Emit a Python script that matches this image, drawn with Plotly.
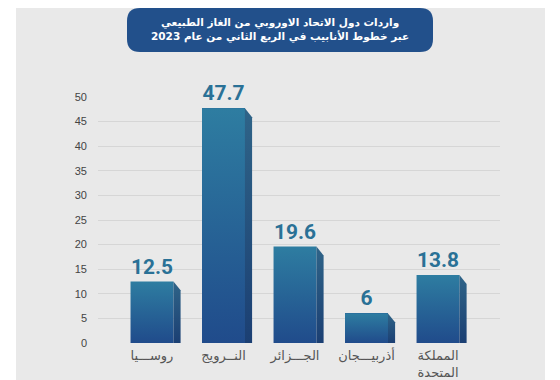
import plotly.graph_objects as go

# ---- data ----
categories = ["روســـيا", "النــرويج", "الجـــزائر", "أذربيـــجان", "المملكة<br>المتحدة"]
values = [12.5, 47.7, 19.6, 6, 13.8]
value_labels = ["12.5", "47.7", "19.6", "6", "13.8"]
y_ticks = [0, 5, 10, 15, 20, 25, 30, 35, 40, 45, 50]
title_text = "واردات دول الاتحاد الاوروبي من الغاز الطبيعي<br>عبر خطوط الأنابيب في الربع الثاني من عام 2023"

# ---- geometry / style ----
OFF = 8                      # page body margin offset
W, H = 560 - OFF, 380 - OFF
ML, MR, MT, MB = 98 - OFF, 60, 97 - OFF, 37
PW, PH = W - ML - MR, H - MT - MB
BAR_W = 0.6
SIDE_DX = 0.1     # side face depth (x units)
SIDE_DY = 1.8     # side face slant drop (y units)

def px_x(p):
    return (p - OFF - ML) / PW

def px_y(p):
    return (H - MB - (p - OFF)) / PH

x_pos = list(range(len(categories)))

fig = go.Figure()

# main bars
fig.add_trace(go.Bar(
    x=x_pos, y=values, width=BAR_W,
    marker=dict(color="#28659a", line=dict(width=0)),
    text=value_labels, textposition="outside",
    textfont=dict(family="Roboto", size=21, color="#2a7196", weight="bold"),
    cliponaxis=False, hoverinfo="skip", showlegend=False,
))

# gradient front faces + darker side faces (3D look), computed from the data
for xi, v in zip(x_pos, values):
    l, r = xi - BAR_W / 2, xi + BAR_W / 2
    fig.add_trace(go.Scatter(
        x=[l, r, r, l, l], y=[0, 0, v, v, 0],
        mode="lines", line=dict(width=0), fill="toself",
        fillgradient=dict(type="vertical",
                          colorscale=[[0, "#204b8b"], [1, "#2e7da1"]]),
        hoverinfo="skip", showlegend=False,
    ))
    fig.add_trace(go.Scatter(
        x=[r, r + SIDE_DX, r + SIDE_DX, r, r],
        y=[v, v - SIDE_DY, 0, 0, v],
        mode="lines", line=dict(width=0), fill="toself",
        fillgradient=dict(type="vertical",
                          colorscale=[[0, "#1b3f73"], [1, "#2f6488"]]),
        hoverinfo="skip", showlegend=False,
    ))

# background panel
shapes = [dict(type="rect", xref="paper", yref="paper",
               x0=px_x(16), x1=px_x(545), y0=px_y(380), y1=px_y(OFF),
               fillcolor="#e9e9e9", line=dict(width=0), layer="below")]

# rounded title box
bx0, bx1, by0, by1 = px_x(127), px_x(433), px_y(52), px_y(8)
rx, ry = 13 / PW, 13 / PH
path = (f"M {bx0+rx},{by1} L {bx1-rx},{by1} Q {bx1},{by1} {bx1},{by1-ry} "
        f"L {bx1},{by0+ry} Q {bx1},{by0} {bx1-rx},{by0} "
        f"L {bx0+rx},{by0} Q {bx0},{by0} {bx0},{by0+ry} "
        f"L {bx0},{by1-ry} Q {bx0},{by1} {bx0+rx},{by1} Z")
shapes.append(dict(type="path", xref="paper", yref="paper", path=path,
                   fillcolor="#22508b", line=dict(width=0), layer="above"))

fig.update_layout(
    width=W, height=H, autosize=False,
    margin=dict(l=ML, r=MR, t=MT, b=MB, pad=0),
    paper_bgcolor="white", plot_bgcolor="rgba(0,0,0,0)",
    shapes=shapes,
    annotations=[dict(
        xref="paper", yref="paper", x=px_x(280), y=px_y(30),
        text=title_text, showarrow=False, align="center",
        xanchor="center", yanchor="middle",
        font=dict(family="DejaVu Sans", size=10.5, color="white", weight="bold"),
    )],
    xaxis=dict(
        range=[-0.755, 4.867], tickmode="array", tickvals=x_pos, ticktext=categories,
        showgrid=False, zeroline=False, showline=False, ticks="",
        tickfont=dict(family="DejaVu Sans", size=13, color="#555555"),
        ticklabelstandoff=3, fixedrange=True, automargin=False,
    ),
    yaxis=dict(
        range=[0, 50], tickmode="array", tickvals=y_ticks,
        showgrid=True, gridcolor="#d6d6d6", gridwidth=1,
        zeroline=False, showline=False, ticks="",
        tickfont=dict(family="Liberation Sans", size=11, color="#444444"),
        ticklabelstandoff=10, fixedrange=True, automargin=False,
    ),
    bargap=0,
)

fig.write_html("out.html")
